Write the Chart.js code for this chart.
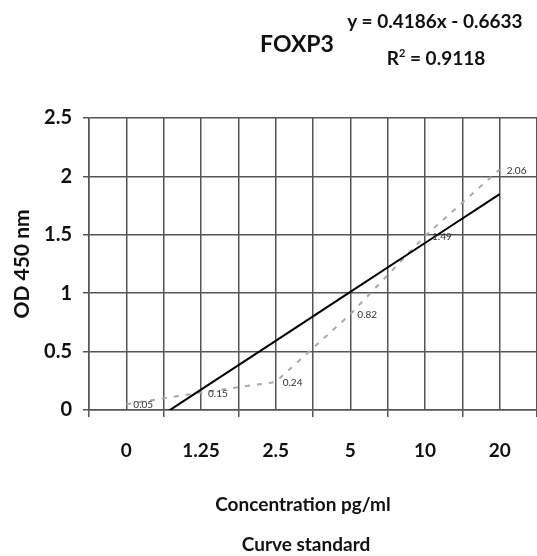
<!DOCTYPE html>
<html>
<head>
<meta charset="utf-8">
<script src="https://cdn.jsdelivr.net/npm/chart.js@4/dist/chart.umd.min.js"></script>
<style>
  body { margin: 0; background: #fff; }
  #wrap { position: relative; width: 537px; height: 556px; font-family: Lato, "Open Sans", sans-serif; font-weight: bold; color: #111; }
  #c { position: absolute; left: 0; top: 0; }
  .t { position: absolute; transform: translate(-50%, -50%); white-space: nowrap; line-height: 1; }
  .t sup { font-size: 11px; vertical-align: 8px; line-height: 0; }
</style>
</head>
<body>
<div id="wrap">
  <canvas id="c" width="537" height="556"></canvas>
  <div class="t" id="chartTitle" style="left:297px; top:43px; font-size:23px;"></div>
  <div class="t" id="eqLine" style="left:435px; top:20px; font-size:19px;"></div>
  <div class="t" id="r2Line" style="left:436px; top:57px; font-size:19px;"></div>
  <div class="t" id="xTitle" style="left:303px; top:503px; font-size:19px;"></div>
  <div class="t" id="caption" style="left:306px; top:543px; font-size:19px;"></div>
</div>
<script>
// ---- data ----
const chartTitle = 'FOXP3';
const categories = ['0', '1.25', '2.5', '5', '10', '20'];
const odValues = [0.05, 0.15, 0.24, 0.82, 1.49, 2.06];
const yTicks = [0, 0.5, 1, 1.5, 2, 2.5];
const trendSlope = 0.4186;
const trendIntercept = -0.6633;
const rSquared = 0.9118;
const xAxisTitle = 'Concentration pg/ml';
const yAxisTitle = 'OD 450 nm';
const captionText = 'Curve standard';

// ---- texts ----
document.getElementById('chartTitle').textContent = chartTitle;
document.getElementById('eqLine').textContent = 'y = ' + trendSlope + 'x - ' + Math.abs(trendIntercept).toFixed(4);
document.getElementById('r2Line').innerHTML = 'R<sup>2</sup> = ' + rSquared;
document.getElementById('xTitle').textContent = xAxisTitle;
document.getElementById('caption').textContent = captionText;

// ---- series ----
const standardPoints = odValues.map((v, i) => ({ x: i + 1, y: v }));
const trendPoints = categories.map((c, i) => ({ x: i + 1, y: trendSlope * (i + 1) + trendIntercept }));

const GRID = '#555';
const FONT = 'Lato';

const pointLabels = {
  id: 'pointLabels',
  afterDatasetsDraw(chart) {
    const meta = chart.getDatasetMeta(1);
    const ctx = chart.ctx;
    ctx.save();
    ctx.font = '10px ' + FONT;
    ctx.fillStyle = '#333';
    ctx.textAlign = 'left';
    ctx.textBaseline = 'middle';
    meta.data.forEach((pt, i) => {
      ctx.fillText(odValues[i].toFixed(2), pt.x + 7, pt.y + 1);
    });
    ctx.restore();
  }
};

new Chart(document.getElementById('c'), {
  type: 'line',
  data: {
    datasets: [
      {
        label: 'Linear trend',
        data: trendPoints,
        borderColor: '#000',
        borderWidth: 2,
        pointRadius: 0,
        fill: false,
        clip: 0
      },
      {
        label: 'OD 450 nm',
        data: standardPoints,
        borderColor: '#aaa',
        borderWidth: 2,
        borderDash: [5, 7],
        pointRadius: 0,
        fill: false
      }
    ]
  },
  options: {
    responsive: false,
    animation: false,
    layout: { padding: { top: 118, right: 0, left: 0, bottom: 0 } },
    plugins: { legend: { display: false }, tooltip: { enabled: false }, title: { display: false } },
    scales: {
      x: {
        type: 'linear',
        min: 0.5,
        max: 6.5,
        ticks: {
          stepSize: 0.5,
          autoSkip: false,
          maxRotation: 0,
          padding: 22,
          color: '#111',
          font: { family: FONT, weight: 'bold', size: 19 },
          callback: (v) => Number.isInteger(v) ? categories[v - 1] : ''
        },
        grid: {
          color: GRID,
          lineWidth: 1.5,
          tickLength: 7,
          tickColor: (ctx) => (ctx.tick && Number.isInteger(ctx.tick.value)) ? 'rgba(0,0,0,0)' : GRID
        },
        border: { color: GRID, width: 1.5 },
        afterFit: (s) => { s.height = 146; s.paddingRight = 0; s.paddingLeft = 0; }
      },
      y: {
        min: 0,
        max: 2.5,
        afterBuildTicks: (s) => { s.ticks = yTicks.map(v => ({ value: v })); },
        ticks: {
          padding: 11,
          color: '#111',
          font: { family: FONT, weight: 'bold', size: 20 },
          callback: (v) => String(v)
        },
        grid: { color: GRID, lineWidth: 1.5, tickLength: 6 },
        border: { color: GRID, width: 1.5 },
        title: {
          display: true,
          text: yAxisTitle,
          color: '#111',
          font: { family: FONT, weight: 'bold', size: 21 },
          padding: { top: 10, bottom: 0 }
        },
        afterFit: (s) => { s.width = 89; s.paddingTop = 0; s.paddingBottom = 0; }
      }
    }
  },
  plugins: [pointLabels]
});
</script>
</body>
</html>
